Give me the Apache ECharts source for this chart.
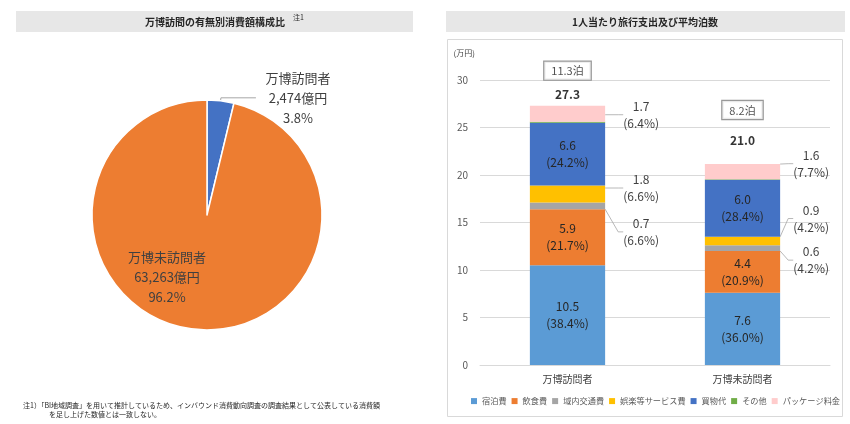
<!DOCTYPE html>
<html>
<head>
<meta charset="utf-8">
<script src="https://cdn.jsdelivr.net/npm/echarts@6/dist/echarts.min.js"></script>
<style>
  html, body { margin: 0; padding: 0; background: #fff; }
  #main { width: 850px; height: 424px; }
</style>
</head>
<body>
<div id="main"></div>
<script>
// 左：万博訪問の有無別消費額（億円）
const pieNames = ['万博訪問者', '万博未訪問者']
const pieValues = [2474, 63263]

// 右：1人当たり旅行支出（万円）
const categories = ['万博訪問者', '万博未訪問者']
const lodging = [10.5, 7.6]
const food = [5.9, 4.4]
const transport = [0.7, 0.6]
const entertainment = [1.8, 0.9]
const shopping = [6.6, 6.0]
const other = [0.1, 0.05]
const pkg = [1.7, 1.6]

const lodgingPct = [38.4, 36.0]
const foodPct = [21.7, 20.9]
const transportPct = [6.6, 4.2]
const entertainmentPct = [6.6, 4.2]
const shoppingPct = [24.2, 28.4]
const pkgPct = [6.4, 7.7]

const totals = [27.3, 21.0]
const nights = [11.3, 8.2]

const yTicks = { min: 0, max: 30, interval: 5 }

const FONT = '"Noto Sans CJK JP", "Noto Sans", sans-serif'
const TXT = '#262626'

const chart = echarts.init(document.getElementById('main'))

function fmtPct(p) { return p.toFixed(1) + '%' }

// 棒の中に入るラベル
function insideSeries(name, values, pct, color) {
    return {
        name: name, type: 'bar', stack: 'total', barWidth: '43%',
        data: values,
        itemStyle: { color: color },
        label: {
            show: true, position: 'inside', color: TXT,
            fontFamily: FONT, fontSize: 12, lineHeight: 17,
            formatter: p => p.value.toFixed(1) + '\n(' + fmtPct(pct[p.dataIndex]) + ')'
        }
    }
}

// 棒の右に引き出し線付きで出すラベル
const outsideDist = [36, 31]
function outsideSeries(name, values, pct, color, dys) {
    return {
        name: name, type: 'bar', stack: 'total', barWidth: '43%',
        data: values.map((v, i) => ({ value: v, label: { distance: outsideDist[i] } })),
        itemStyle: { color: color },
        label: {
            show: true, position: 'right', align: 'center', color: '#404040',
            fontFamily: FONT, fontSize: 12, lineHeight: 17,
            formatter: p => p.value.toFixed(1) + '\n(' + fmtPct(pct[p.dataIndex]) + ')'
        },
        labelLine: { show: true, length2: 5, lineStyle: { color: '#a6a6a6', width: 0.8 } },
        labelLayout: p => ({ dy: dys[p.dataIndex] })
    }
}

const pieRich = { a: { width: 74, align: 'center', fontFamily: FONT, fontSize: 13, lineHeight: 20, color: '#404040' } }

const option = {
    animation: false,
    textStyle: { fontFamily: FONT },
    graphic: [
        { type: 'rect', shape: { x: 16, y: 11, width: 397, height: 21 }, style: { fill: '#e7e7e7' }, silent: true },
        { type: 'rect', shape: { x: 446, y: 11, width: 399, height: 21 }, style: { fill: '#e7e7e7' }, silent: true },
        { type: 'rect', shape: { x: 447.5, y: 39.5, width: 395, height: 377 }, style: { fill: 'none', stroke: '#d9d9d9', lineWidth: 1 }, silent: true },
        { type: 'text', x: 215, y: 22, style: { text: '万博訪問の有無別消費額構成比', font: 'bold 10px ' + FONT, fill: '#262626', textAlign: 'center', textVerticalAlign: 'middle' } },
        { type: 'text', x: 293, y: 17, style: { text: '注1', font: '7px ' + FONT, fill: '#262626', textAlign: 'left', textVerticalAlign: 'middle' } },
        { type: 'text', x: 645, y: 22, style: { text: '1人当たり旅行支出及び平均泊数', font: 'bold 10px ' + FONT, fill: '#262626', textAlign: 'center', textVerticalAlign: 'middle' } },
        { type: 'text', x: 23, y: 405, style: { text: '注1）「BI地域調査」を用いて推計しているため、インバウンド消費動向調査の調査結果として公表している消費額', font: '7px ' + FONT, fill: '#262626', textVerticalAlign: 'middle' } },
        { type: 'text', x: 49, y: 414, style: { text: 'を足し上げた数値とは一致しない。', font: '7px ' + FONT, fill: '#262626', textVerticalAlign: 'middle' } }
    ],
    legend: {
        data: ['宿泊費', '飲食費', '域内交通費', '娯楽等サービス費', '買物代', 'その他', 'パッケージ料金'],
        left: 471, top: 397, width: 378, padding: 0,
        icon: 'rect', itemWidth: 6, itemHeight: 6, itemGap: 5,
        textStyle: { fontFamily: FONT, fontSize: 8.2, color: '#595959' }
    },
    grid: { left: 480, right: 20, top: 80, bottom: 59 },
    xAxis: {
        type: 'category', data: categories,
        axisLine: { lineStyle: { color: '#d9d9d9' } },
        axisTick: { show: false },
        axisLabel: { color: '#404040', fontFamily: FONT, fontSize: 10, margin: 9 }
    },
    yAxis: {
        type: 'value', min: yTicks.min, max: yTicks.max, interval: yTicks.interval,
        name: '(万円)', nameGap: 23,
        nameTextStyle: { color: '#404040', fontFamily: FONT, fontSize: 8, align: 'right', padding: [0, 5, 0, 0] },
        axisLine: { show: false }, axisTick: { show: false },
        axisLabel: { color: '#595959', fontFamily: FONT, fontSize: 10, margin: 12 },
        splitLine: { lineStyle: { color: '#d9d9d9' } }
    },
    series: [
        {
            type: 'pie', center: [207, 215], radius: 115, startAngle: 90, clockwise: true,
            percentPrecision: 1,
            itemStyle: { borderColor: '#fff', borderWidth: 1.5 },
            data: pieNames.map((n, i) => ({
                name: n, value: pieValues[i],
                itemStyle: { color: i === 0 ? '#4472c4' : '#ed7d31' },
                label: i === 0 ? { position: 'outside' } : { position: 'inside' },
                labelLine: i === 0 ? { show: true } : { show: false }
            })),
            label: {
                rich: pieRich,
                formatter: p => '{a|' + p.name + '}\n{a|' + p.value.toLocaleString('en-US') + '億円}\n{a|' + p.percent.toFixed(1) + '%}'
            },
            labelLine: { length: 3, length2: 35, lineStyle: { color: '#a6a6a6', width: 1 } },
            labelLayout: p => p.dataIndex === 1 ? { x: 167, y: 277, align: 'center', verticalAlign: 'middle' } : {}
        },
        insideSeries('宿泊費', lodging, lodgingPct, '#5b9bd5'),
        insideSeries('飲食費', food, foodPct, '#ed7d31'),
        outsideSeries('域内交通費', transport, transportPct, '#a5a5a5', [26, 12]),
        outsideSeries('娯楽等サービス費', entertainment, entertainmentPct, '#ffc000', [-6, -22.5]),
        insideSeries('買物代', shopping, shoppingPct, '#4472c4'),
        { name: 'その他', type: 'bar', stack: 'total', barWidth: '43%', data: other, itemStyle: { color: '#70ad47' } },
        outsideSeries('パッケージ料金', pkg, pkgPct, '#ffcccc', [1, -8]),
        {
            type: 'scatter', data: totals.map((v, i) => ({ value: v, label: { distance: [5, 18.5][i] } })),
            symbolSize: 1, itemStyle: { color: 'rgba(0,0,0,0)' }, z: 5,
            label: { show: true, position: 'top', color: '#000', fontFamily: FONT, fontSize: 12, fontWeight: 'bold', formatter: p => p.value.toFixed(1) }
        },
        {
            type: 'scatter', data: totals.map((v, i) => ({ value: v, label: { distance: [25.5, 46][i] } })),
            symbolSize: 1, itemStyle: { color: 'rgba(0,0,0,0)' }, z: 5,
            label: {
                show: true, position: 'top', color: '#262626', fontFamily: FONT, fontSize: 11,
                padding: [4, 7, 3, 7], borderColor: '#7f7f7f', borderWidth: 1.2, backgroundColor: '#fff',
                formatter: p => nights[p.dataIndex].toFixed(1) + '泊'
            }
        }
    ]
}

chart.setOption(option)
</script>
</body>
</html>
